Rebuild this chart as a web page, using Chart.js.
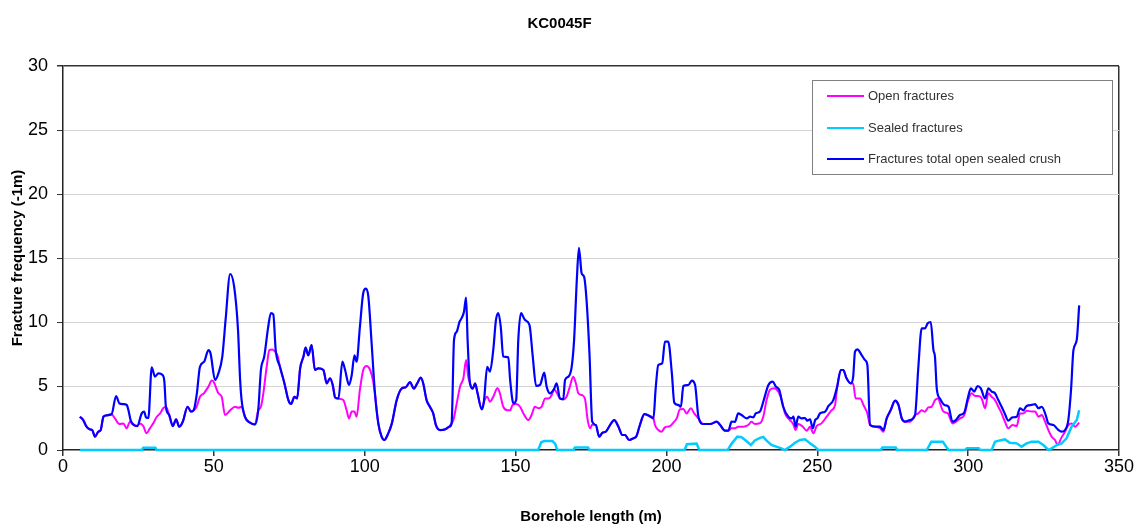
<!DOCTYPE html>
<html>
<head>
<meta charset="utf-8">
<script src="https://cdn.jsdelivr.net/npm/chart.js@4.4.1/dist/chart.umd.min.js"></script>
<style>
  html, body { margin: 0; padding: 0; background: #ffffff; }
  #wrap { width: 1145px; height: 529px; }
</style>
</head>
<body>
<div id="wrap"><canvas id="c" width="1145" height="529"></canvas></div>
<script>
const chartTitle = 'KC0045F';
const xTitle = 'Borehole length (m)';
const yTitle = 'Fracture frequency (-1m)';
const seriesNames = ['Open fractures', 'Sealed fractures', 'Fractures total open sealed crush'];
const xTicks = [0, 50, 100, 150, 200, 250, 300, 350];
const yTicks = [0, 5, 10, 15, 20, 25, 30];

// Fractures total open sealed crush
const totalDepth = [5.6,6.7,7.8,8.9,9.7,10.6,11.7,12.5,13.4,14.5,16.1,17.6,18.7,20.0,21.1,21.7,22.4,23.5,24.6,26.1,26.9,27.5,28.3,29.4,30.5,31.6,33.0,33.6,34.1,35.2,36.4,37.5,38.5,39.7,41.3,42.4,43.3,44.3,45.4,46.8,48.2,48.9,50.4,51.5,52.8,53.9,55.4,56.7,58.0,58.7,59.2,60.3,62.0,63.6,64.7,65.6,66.7,68.0,68.9,69.7,70.5,71.9,73.4,74.7,75.6,76.7,77.6,78.6,79.7,80.4,81.3,82.4,83.5,84.6,86.3,87.4,88.5,89.4,90.2,91.3,92.6,93.5,94.8,95.7,96.6,97.3,98.4,99.5,100.4,101.2,102.3,103.4,104.5,105.6,106.5,107.8,109.0,110.6,112.3,113.6,115.0,116.3,117.4,118.6,119.4,120.5,121.6,122.7,123.6,125.0,126.6,128.0,128.8,129.6,130.5,131.4,132.1,132.9,133.6,134.1,134.9,135.8,136.6,137.4,138.8,139.5,140.6,141.5,142.6,143.5,144.3,145.1,145.9,147.6,148.2,149.3,150.2,150.9,151.8,153.1,154.6,155.7,156.8,158.1,159.5,160.3,161.4,162.7,163.6,164.7,165.8,166.4,167.5,168.6,169.4,170.3,171.0,171.9,172.7,173.6,174.5,175.4,176.6,177.7,178.8,179.9,181.3,182.7,184.1,185.4,186.3,187.6,189.0,190.1,191.2,192.7,194.2,195.7,196.4,197.3,198.6,199.5,200.6,201.8,202.6,203.9,204.8,205.6,207.3,208.4,209.5,210.6,212.2,214.5,216.7,217.8,219.4,220.5,221.6,222.7,223.8,224.9,226.6,227.7,228.8,229.6,231.0,232.1,233.8,235.2,236.3,237.4,238.7,240.4,241.5,242.1,242.8,243.7,244.8,245.9,246.7,247.6,248.5,249.3,250.0,250.9,252.6,253.7,255.3,256.6,257.8,258.6,259.7,261.1,261.9,262.5,263.3,264.7,265.8,266.6,267.5,269.2,270.8,271.9,273.0,274.3,275.8,276.9,278.0,279.1,280.7,282.4,283.5,284.6,285.7,286.6,287.6,288.5,289.0,289.6,290.7,292.1,293.5,294.8,295.9,297.3,298.7,300.0,300.9,302.0,303.1,304.2,305.6,306.7,307.8,308.9,310.0,311.1,312.2,313.3,314.7,316.1,317.2,318.3,319.4,321.1,322.2,323.3,324.4,325.7,326.6,328.3,329.7,331.0,332.1,333.2,334.1,334.9,336.0,336.8];
const totalFreq = [2.6,2.34,1.82,1.61,1.56,1.04,1.43,1.56,2.6,2.71,2.79,4.22,3.64,3.59,3.52,3.1,2.34,1.95,1.87,2.86,3.0,2.55,2.5,6.46,5.73,5.99,5.86,5.34,3.38,2.73,1.87,2.4,1.82,2.21,3.38,3.0,3.1,4.3,6.5,6.9,7.8,7.55,5.47,5.99,7.3,10.2,13.75,12.8,9.4,5.5,3.9,2.6,2.14,2.0,3.1,6.25,7.3,9.6,10.7,10.6,7.8,6.5,5.2,3.9,3.6,4.16,4.03,6.38,7.3,8.0,7.4,8.2,6.25,6.38,6.25,5.2,5.6,5.08,4.1,4.03,6.9,6.25,5.08,5.86,7.4,6.9,9.6,12.24,12.6,12.0,8.3,4.4,2.08,1.04,0.78,1.3,2.08,3.9,4.82,4.9,5.3,4.8,5.2,5.65,5.2,3.9,3.38,2.86,1.95,1.56,1.61,1.82,2.08,8.6,9.24,10.0,10.3,10.8,11.9,8.6,5.2,4.8,5.2,4.43,3.18,3.77,6.5,6.12,7.8,10.16,10.7,9.6,7.3,7.24,5.47,3.64,3.9,8.6,10.7,10.16,9.77,7.3,5.0,5.08,6.04,4.95,4.43,4.74,5.2,4.03,3.96,5.47,5.73,6.5,8.6,13.3,15.8,13.8,13.54,11.46,7.5,2.21,1.95,1.04,1.35,1.43,1.95,2.34,1.82,1.17,1.17,0.78,0.91,1.1,1.95,2.81,2.68,2.47,4.69,6.64,6.77,8.46,8.46,5.99,3.7,3.52,3.38,5.0,5.08,5.42,5.08,2.6,2.03,2.03,2.21,1.95,1.51,1.51,2.21,2.2,2.86,2.73,2.47,2.6,2.55,2.86,3.0,3.77,5.08,5.34,4.95,4.69,3.38,2.6,2.47,2.6,1.82,2.6,2.47,2.5,2.29,2.4,1.69,2.34,2.47,2.86,3.0,3.44,3.9,4.95,6.25,6.25,5.6,5.2,5.73,7.68,7.86,7.42,7.03,6.64,1.95,1.82,1.82,1.56,2.47,3.1,3.85,3.52,2.47,2.21,2.34,2.73,6.5,9.5,9.5,9.9,10.0,7.8,7.3,4.8,4.0,3.52,3.38,2.21,2.34,2.73,2.92,4.16,4.82,4.56,5.0,4.82,4.03,4.82,4.56,4.43,3.9,3.38,2.81,2.29,2.55,2.6,3.26,3.1,3.44,3.52,3.59,3.26,3.38,2.73,2.08,1.95,1.61,1.43,1.56,2.34,4.69,7.8,8.6,11.3];

// Open fractures
const openDepth = [5.6,6.7,7.8,8.9,9.7,10.6,11.7,12.5,13.4,14.5,16.1,17.2,18.7,20.0,21.1,22.2,23.1,24.6,25.5,26.6,27.7,28.8,29.9,31.1,32.2,33.2,34.1,35.2,36.4,37.5,38.5,39.7,41.3,42.4,43.3,44.3,45.4,46.7,48.2,49.3,50.0,51.5,52.6,53.7,55.4,57.0,58.1,59.2,60.3,62.0,63.6,64.7,65.6,66.4,67.5,68.4,69.4,70.3,71.2,71.9,73.4,74.7,75.6,76.7,77.6,78.6,79.7,80.4,81.3,82.4,83.5,84.6,86.3,87.4,88.5,89.4,90.2,91.3,92.9,94.0,94.8,95.7,96.6,97.3,98.4,99.5,100.6,101.8,102.7,103.4,104.5,105.6,106.5,107.8,109.0,110.6,112.3,113.6,115.0,116.3,117.4,118.6,119.4,120.5,121.6,122.7,123.6,125.0,126.6,128.0,128.8,129.4,130.5,131.6,132.7,133.6,134.3,134.9,135.8,136.6,137.4,138.8,139.5,140.6,141.5,142.6,144.0,144.8,145.9,147.3,148.2,149.0,150.2,151.5,152.6,154.2,155.3,156.4,157.6,158.7,159.8,160.9,162.0,162.7,163.6,164.7,165.8,166.9,168.0,169.1,170.0,170.8,171.9,173.0,173.9,174.7,175.4,176.6,177.7,178.8,179.9,181.3,182.7,184.1,185.4,186.3,187.6,189.0,190.1,191.2,192.7,194.2,195.7,196.2,197.3,198.4,199.5,201.2,202.3,203.4,204.5,205.6,206.7,208.1,209.2,210.6,212.2,214.5,216.7,217.8,219.4,220.5,221.6,222.7,223.8,225.5,227.1,228.2,229.3,231.0,232.1,233.2,234.3,235.7,237.1,238.2,239.3,240.9,242.0,242.8,243.7,245.2,246.5,247.6,248.7,249.8,251.4,253.1,254.7,255.9,256.6,257.8,258.6,259.7,261.1,261.9,262.7,264.2,265.3,266.6,267.5,269.2,270.8,271.9,273.0,274.3,275.8,276.9,278.0,279.1,280.7,282.4,283.5,284.6,285.7,286.8,287.9,289.0,290.1,290.7,291.8,293.3,294.8,295.9,297.3,298.7,300.0,301.2,302.3,303.4,304.5,305.6,306.7,307.8,308.9,310.0,311.1,312.2,313.3,314.7,316.1,317.2,318.3,319.4,321.1,322.2,323.3,324.4,325.5,326.6,327.7,328.8,329.7,330.8,332.1,333.2,334.3,335.5,336.8];
const openFreq = [2.6,2.34,1.82,1.61,1.56,1.04,1.43,1.56,2.6,2.71,2.79,2.47,2.03,2.07,1.69,2.21,2.0,1.87,2.08,1.87,1.3,1.69,2.08,2.6,2.86,3.26,3.38,2.73,1.87,2.4,1.82,2.21,3.38,3.0,3.1,3.38,4.16,4.43,4.95,5.42,5.3,4.43,4.16,2.73,3.1,3.38,3.3,3.38,2.6,2.14,2.0,3.1,3.38,4.43,6.5,7.8,7.86,7.68,7.3,6.5,5.2,3.9,3.6,4.16,4.03,6.38,7.3,8.0,7.4,8.2,6.25,6.38,6.25,5.2,5.6,5.08,4.1,4.0,3.9,3.1,2.47,3.0,3.0,2.6,4.69,6.25,6.56,6.25,5.47,4.4,2.08,1.04,0.78,1.3,2.08,3.9,4.82,4.9,5.3,4.8,5.2,5.65,5.2,3.9,3.38,2.86,1.95,1.56,1.61,1.82,2.08,2.34,3.64,4.95,5.6,7.03,5.73,5.2,4.8,5.2,4.43,3.18,3.77,4.16,3.77,4.16,4.82,4.43,3.38,3.1,3.1,3.52,3.6,3.38,2.86,2.34,2.73,3.38,3.26,3.4,4.03,4.03,4.3,4.74,4.5,4.03,3.96,4.16,4.95,5.73,5.2,4.43,4.3,4.0,2.34,1.69,2.0,1.95,1.04,1.35,1.43,1.95,2.34,1.82,1.17,1.17,0.78,0.91,1.1,1.95,2.81,2.68,2.47,1.95,1.56,1.43,1.77,1.87,2.14,2.47,3.18,3.2,2.86,3.26,2.86,2.47,2.03,2.03,2.21,1.95,1.51,1.51,1.69,1.69,1.82,1.82,1.95,2.21,2.03,2.1,2.6,3.9,4.69,4.82,4.56,3.9,2.86,2.34,2.03,1.56,2.03,1.82,1.51,1.82,1.3,1.87,2.08,2.6,3.1,3.52,4.95,6.25,6.25,5.6,5.2,5.2,4.03,4.03,3.52,2.86,1.95,1.82,1.7,1.43,2.47,3.1,3.85,3.52,2.47,2.21,2.21,2.73,2.86,3.1,2.99,3.33,3.38,3.9,4.03,3.64,3.0,2.86,2.08,2.2,2.47,2.73,3.9,4.43,4.22,4.22,4.03,3.26,4.43,4.16,3.9,3.38,2.86,2.21,1.69,1.95,1.87,2.86,2.86,3.07,3.0,3.0,2.6,2.73,2.21,1.56,1.04,0.78,0.39,0.91,1.43,1.95,2.08,1.82,2.14];

// Sealed fractures
const sealedDepth = [5.6,26.1,26.6,30.6,31.1,157.5,158.5,159.5,162.2,163.1,163.8,169.2,169.7,174.0,174.5,206.0,206.8,210.0,210.9,220.3,221.7,223.5,224.9,226.4,228.0,229.3,231.0,232.1,233.2,234.8,236.4,238.1,239.2,241.0,242.6,244.3,245.9,247.6,249.2,250.3,271.0,271.6,276.0,276.5,286.3,287.8,291.6,293.5,299.0,299.6,303.5,304.0,307.8,308.9,310.5,312.2,313.8,316.1,317.7,319.4,321.0,323.3,324.9,326.6,327.7,329.4,331.0,332.6,334.3,336.0,336.8];
const sealedFreq = [0,0,0.18,0.18,0,0,0.6,0.7,0.7,0.5,0,0,0.2,0.2,0,0,0.45,0.5,0,0,0.52,1.04,1.0,0.72,0.39,0.75,0.95,1.02,0.73,0.39,0.26,0.13,0,0.26,0.57,0.78,0.83,0.52,0.26,0,0,0.2,0.2,0,0,0.65,0.65,0,0,0.13,0.13,0,0,0.65,0.75,0.83,0.57,0.52,0.26,0.52,0.65,0.65,0.39,0,0.13,0.39,0.52,0.91,1.82,2.34,3.1];

const seriesColors = ['#FF00FF', '#00CCFF', '#0000FF'];

function pts(xs, ys) { return xs.map((x, i) => ({ x: x, y: ys[i] })); }

const FONT = "'Liberation Sans', Arial, sans-serif";

const boxLegend = {
  id: 'boxLegend',
  afterDraw(chart) {
    const ctx = chart.ctx;
    const x0 = 812.5, y0 = 80.5, w = 300, h = 94;
    ctx.save();
    ctx.fillStyle = '#ffffff';
    ctx.fillRect(x0, y0, w, h);
    ctx.strokeStyle = '#808080';
    ctx.lineWidth = 1;
    ctx.strokeRect(x0, y0, w, h);
    ctx.font = '13px ' + FONT;
    ctx.textBaseline = 'middle';
    ctx.textAlign = 'left';
    const rows = [96, 128, 159];
    chart.data.datasets.forEach((ds, i) => {
      ctx.strokeStyle = ds.borderColor;
      ctx.lineWidth = 2;
      ctx.beginPath();
      ctx.moveTo(827, rows[i]);
      ctx.lineTo(864, rows[i]);
      ctx.stroke();
      ctx.fillStyle = '#333333';
      ctx.fillText(ds.label, 868, rows[i]);
    });
    ctx.restore();
  }
};

new Chart(document.getElementById('c'), {
  type: 'line',
  data: {
    datasets: [
      { label: seriesNames[0], data: pts(openDepth, openFreq), borderColor: seriesColors[0], borderWidth: 2, pointRadius: 0, order: 2, clip: 4, cubicInterpolationMode: 'monotone' },
      { label: seriesNames[1], data: pts(sealedDepth, sealedFreq), borderColor: seriesColors[1], borderWidth: 2.5, pointRadius: 0, order: 1, clip: 4, tension: 0 },
      { label: seriesNames[2], data: pts(totalDepth, totalFreq), borderColor: seriesColors[2], borderWidth: 2.2, pointRadius: 0, order: 0, clip: 4, cubicInterpolationMode: 'monotone' }
    ]
  },
  options: {
    responsive: false,
    animation: false,
    devicePixelRatio: 1,
    layout: { padding: { left: 0, right: 26, top: 0, bottom: 0 } },
    plugins: {
      legend: { display: false },
      tooltip: { enabled: false },
      title: {
        display: true,
        text: chartTitle,
        color: '#000000',
        font: { family: FONT, size: 15, weight: 'bold' },
        padding: { top: 15, bottom: 33 }
      }
    },
    scales: {
      x: {
        type: 'linear',
        min: 0, max: 350,
        afterBuildTicks: (s) => { s.ticks = xTicks.map(v => ({ value: v })); },
        afterFit: (s) => { s.height = 79; },
        ticks: { color: '#000000', font: { family: FONT, size: 18 }, padding: 0, maxRotation: 0 },
        grid: {
          color: (c) => (c.tick && c.tick.value === 350) ? '#333333' : 'rgba(0,0,0,0)',
          tickColor: '#333333', tickLength: 6, lineWidth: 1.5
        },
        border: { color: '#222222', width: 1.5 },
        title: { display: true, text: xTitle, color: '#000000', font: { family: FONT, size: 15, weight: 'bold' }, padding: { top: 0, bottom: 3 } }
      },
      y: {
        type: 'linear',
        min: 0, max: 30,
        afterBuildTicks: (s) => { s.ticks = yTicks.map(v => ({ value: v })); },
        afterFit: (s) => { s.width = 63; },
        ticks: { color: '#000000', font: { family: FONT, size: 18 }, padding: 9 },
        grid: {
          color: (c) => {
            const v = c.tick ? c.tick.value : null;
            if (v === 30) return '#333333';
            if (v === 0) return 'rgba(0,0,0,0)';
            return '#d4d4d4';
          },
          lineWidth: (c) => (c.tick && c.tick.value === 30) ? 1.5 : 1,
          tickColor: '#333333', tickLength: 6
        },
        border: { color: '#222222', width: 1.5 },
        title: { display: true, text: yTitle, color: '#000000', font: { family: FONT, size: 15, weight: 'bold' }, padding: { top: 9, bottom: 0 } }
      }
    }
  },
  plugins: [boxLegend]
});
</script>
</body>
</html>
